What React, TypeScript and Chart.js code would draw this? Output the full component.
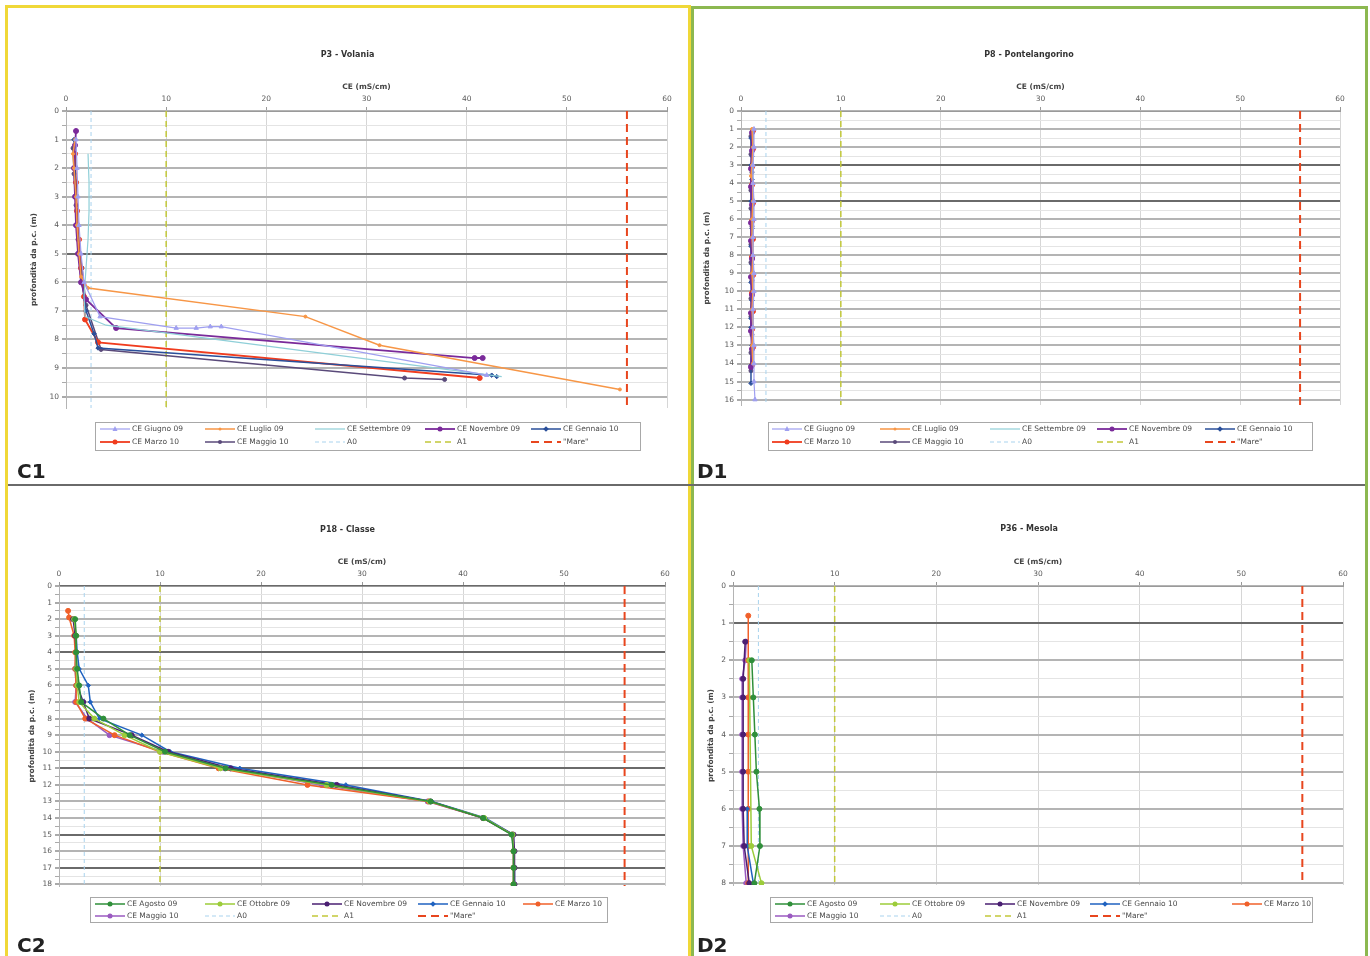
import React, { useEffect, useRef } from 'react';
import { Chart, registerables } from 'chart.js';
Chart.register(...registerables);

// ---------------- P3 - Volania (C1) ----------------
const c1GiugnoX = [1.0, 1.1, 1.2, 1.3, 1.5, 1.8, 3.4, 11.0, 13.0, 14.4, 15.5, 42.0];
const c1GiugnoD = [1.0, 2.0, 3.0, 4.0, 5.0, 6.0, 7.2, 7.6, 7.6, 7.55, 7.55, 9.25];
const c1LuglioX = [0.9, 0.7, 0.8, 1.0, 1.1, 1.3, 1.5, 2.2, 23.9, 31.3, 55.3];
const c1LuglioD = [1.0, 1.5, 2.0, 3.0, 4.0, 5.0, 5.8, 6.2, 7.2, 8.2, 9.75];
const c1SettembreX = [2.2, 2.3, 2.3, 2.2, 2.0, 1.8, 1.9, 4.0, 43.5];
const c1SettembreD = [1.5, 2.5, 3.5, 4.5, 5.5, 6.5, 7.2, 7.5, 9.3];
const c1NovembreX = [1.0, 0.9, 0.8, 0.9, 1.0, 1.2, 1.5, 2.0, 5.0, 40.8, 41.6];
const c1NovembreD = [0.7, 1.2, 2.0, 3.0, 4.0, 5.0, 6.0, 6.6, 7.6, 8.65, 8.65];
const c1GennaioX = [0.8, 0.9, 1.0, 1.1, 1.3, 1.6, 2.0, 2.8, 3.2, 42.5, 43.0];
const c1GennaioD = [1.0, 2.0, 3.0, 4.0, 5.0, 6.0, 7.0, 7.8, 8.3, 9.25, 9.3];
const c1MarzoX = [0.9, 1.0, 1.1, 1.3, 1.5, 1.8, 1.9, 3.2, 41.3];
const c1MarzoD = [1.5, 2.5, 3.5, 4.5, 5.5, 6.5, 7.3, 8.1, 9.35];
const c1MaggioX = [0.7, 0.8, 1.0, 1.2, 1.6, 2.0, 3.5, 33.8, 37.8];
const c1MaggioD = [1.3, 2.2, 3.3, 4.5, 5.5, 6.8, 8.35, 9.35, 9.4];

// ---------------- P8 - Pontelangorino (D1) ----------------
const d1GiugnoX = [1.3, 1.3, 1.2, 1.2, 1.3, 1.3, 1.2, 1.2, 1.3, 1.3, 1.2, 1.2, 1.3, 1.3, 1.3, 1.4];
const d1GiugnoD = [1, 2, 3, 4, 5, 6, 7, 8, 9, 10, 11, 12, 13, 14, 15, 16];
const d1LuglioX = [1.1, 1.2, 1.1, 1.0, 1.2, 1.2, 1.1, 1.1, 1.2, 1.1, 1.2, 1.1, 1.2, 1.1, 1.2];
const d1LuglioD = [1, 2, 3, 3.6, 4, 5, 6, 7, 8, 9, 10, 11, 12, 13, 14];
const d1SettembreX = [1.2, 1.2, 1.2, 1.2, 1.2, 1.2, 1.2, 1.2, 1.2, 1.2, 1.2, 1.2, 1.2, 1.2];
const d1SettembreD = [1, 2, 3, 4, 5, 6, 7, 8, 9, 10, 11, 12, 13, 14];
const d1NovembreX = [1.1, 1.1, 1.0, 1.0, 1.1, 1.0, 1.0, 1.1, 1.0, 1.1, 1.0, 1.0, 1.1, 1.0];
const d1NovembreD = [1.2, 2.2, 3.2, 4.2, 5.2, 6.2, 7.2, 8.2, 9.2, 10.2, 11.2, 12.2, 13.2, 14.2];
const d1GennaioX = [1.0, 1.1, 1.0, 1.1, 1.0, 1.1, 1.0, 1.1, 1.0, 1.1, 1.0, 1.0, 1.1, 1.0, 1.0];
const d1GennaioD = [1.5, 2.5, 3, 3.8, 5, 6.5, 7.5, 8.5, 9.5, 10.5, 11.5, 12, 13, 14.1, 15.1];
const d1MarzoX = [1.2, 1.2, 1.1, 1.1, 1.2, 1.1, 1.2, 1.1, 1.2, 1.1, 1.2, 1.1, 1.2, 1.1];
const d1MarzoD = [1.1, 2.1, 3.1, 4.1, 5.1, 6.1, 7.1, 8.1, 9.1, 10.1, 11.1, 12.1, 13.1, 14.1];
const d1MaggioX = [1.0, 1.0, 1.1, 1.0, 1.0, 1.1, 1.0, 1.0, 1.1, 1.0, 1.0, 1.1, 1.0, 1.0];
const d1MaggioD = [1.4, 2.4, 3.4, 4.4, 5.4, 6.4, 7.4, 8.4, 9.4, 10.4, 11.4, 12.4, 13.4, 14.4];

// ---------------- P18 - Classe (C2) ----------------
const c2AgostoX = [1.6, 1.7, 1.7, 1.8, 2.0, 2.2, 4.4, 7.0, 10.5, 16.5, 27.0, 36.8, 42.0, 44.8, 45.0, 45.0, 45.0];
const c2AgostoD = [2, 3, 4, 5, 6, 7, 8, 9, 10, 11, 12, 13, 14, 15, 16, 17, 18];
const c2OttobreX = [1.5, 1.7, 1.7, 1.7, 1.8, 2.0, 3.5, 6.5, 10.0, 16.0, 26.5, 36.7, 42.1, 44.9, 45.0, 45.0, 45.0];
const c2OttobreD = [2, 3, 4, 5, 6, 7, 8, 9, 10, 11, 12, 13, 14, 15, 16, 17, 18];
const c2NovembreX = [1.4, 1.6, 1.7, 1.7, 1.8, 2.4, 3.0, 7.2, 10.8, 17.0, 27.5, 36.8, 42.0, 45.0, 45.1, 45.1, 45.1];
const c2NovembreD = [2, 3, 4, 5, 6, 7, 8, 9, 10, 11, 12, 13, 14, 15, 16, 17, 18];
const c2GennaioX = [1.7, 1.8, 2.0, 2.9, 3.1, 4.0, 8.2, 11.0, 17.9, 28.4, 36.9, 42.2, 45.0, 45.0, 45.1, 45.1];
const c2GennaioD = [3, 4, 5, 6, 7, 8, 9, 10, 11, 12, 13, 14, 15, 16, 17, 18];
const c2MarzoX = [0.9, 1.0, 1.5, 1.6, 1.6, 1.7, 1.7, 2.6, 5.5, 10.0, 15.8, 24.6, 36.6, 42.0, 44.9, 45.0, 45.0, 45.0];
const c2MarzoD = [1.5, 1.9, 3, 4, 5, 6, 7, 8, 9, 10, 11, 12, 13, 14, 15, 16, 17, 18];
const c2MaggioX = [1.6, 1.7, 1.6, 1.7, 1.6, 2.8, 5.0, 10.3, 16.4, 26.0, 36.5, 42.0, 44.9, 45.0, 45.0, 45.0];
const c2MaggioD = [3, 4, 5, 6, 7, 8, 9, 10, 11, 12, 13, 14, 15, 16, 17, 18];

// ---------------- P36 - Mesola (D2) ----------------
const d2AgostoX = [1.85, 2.0, 2.15, 2.3, 2.6, 2.65, 2.1];
const d2AgostoD = [2, 3, 4, 5, 6, 7, 8];
const d2OttobreX = [1.6, 1.8, 2.8];
const d2OttobreD = [2, 7, 8];
const d2NovembreX = [1.2, 1.0, 1.0, 1.0, 1.0, 1.0, 1.1, 1.6];
const d2NovembreD = [1.5, 2.5, 3, 4, 5, 6, 7, 8];
const d2GennaioX = [1.4, 1.4, 2.0];
const d2GennaioD = [6, 7, 8];
const d2MarzoX = [1.5, 1.5, 1.5, 1.5, 1.5, 1.5, 1.5, 1.5];
const d2MarzoD = [0.8, 2, 3, 4, 5, 6, 7, 8];
const d2MaggioX = [1.3, 1.2, 0.9, 0.9, 0.9, 0.9, 0.9, 1.0, 1.3];
const d2MaggioD = [1.5, 2, 2.5, 3, 4, 5, 6, 7, 8];

// reference thresholds
const thrA0 = 2.5;
const thrA1 = 10;
const thrMare = 56;

const xTicksMax = 60;
const FONT = '"DejaVu Sans", Verdana, sans-serif';

const pts = (xs: number[], ds: number[]) => xs.map((x, i) => ({ x, y: ds[i] }));

function series(label: string, xs: number[], ds: number[], color: string, style: any, radius: number, width = 1.5) {
  return {
    label,
    data: pts(xs, ds),
    showLine: true,
    borderColor: color,
    backgroundColor: color,
    borderWidth: width,
    pointStyle: style,
    pointRadius: radius,
    pointBorderWidth: 1,
  };
}
function thr(label: string, x: number, maxD: number, color: string, dash: number[], width: number) {
  return {
    label,
    data: [{ x, y: 0 }, { x, y: maxD }],
    showLine: true,
    borderColor: color,
    backgroundColor: color,
    borderWidth: width,
    borderDash: dash,
    pointRadius: 0,
  };
}

const COL_A0 = '#a9d3ee';
const COL_A1 = '#c2c83a';
const COL_MARE = '#e8461e';

const c1Max = 10.4, d1Max = 16.3, c2Max = 18.1, d2Max = 8.05;

const c1Datasets = [
  series('CE Giugno 09', c1GiugnoX, c1GiugnoD, '#9f9ff0', 'triangle', 2.5, 1.2),
  series('CE Luglio 09', c1LuglioX, c1LuglioD, '#f79646', 'circle', 1.5),
  series('CE Settembre 09', c1SettembreX, c1SettembreD, '#8fcfd8', 'circle', 0, 1.2),
  series('CE Novembre 09', c1NovembreX, c1NovembreD, '#7a2a9a', 'circle', 2.5, 1.8),
  series('CE Gennaio 10', c1GennaioX, c1GennaioD, '#2a4f9a', 'rectRot', 2.2),
  series('CE Marzo 10', c1MarzoX, c1MarzoD, '#f03c1e', 'circle', 2.5, 1.8),
  series('CE Maggio 10', c1MaggioX, c1MaggioD, '#5a4a7a', 'circle', 2),
  thr('A0', thrA0, c1Max, COL_A0, [4, 3], 1),
  thr('A1', thrA1, c1Max, COL_A1, [6, 4], 1.5),
  thr('"Mare"', thrMare, c1Max, COL_MARE, [8, 5], 2),
];
const d1Datasets = [
  series('CE Giugno 09', d1GiugnoX, d1GiugnoD, '#9f9ff0', 'triangle', 2.5, 1.2),
  series('CE Luglio 09', d1LuglioX, d1LuglioD, '#f79646', 'circle', 1.5),
  series('CE Settembre 09', d1SettembreX, d1SettembreD, '#8fcfd8', 'circle', 0, 1.2),
  series('CE Novembre 09', d1NovembreX, d1NovembreD, '#7a2a9a', 'circle', 2.5, 1.8),
  series('CE Gennaio 10', d1GennaioX, d1GennaioD, '#2a4f9a', 'rectRot', 2.2),
  series('CE Marzo 10', d1MarzoX, d1MarzoD, '#f03c1e', 'circle', 2.5, 1.8),
  series('CE Maggio 10', d1MaggioX, d1MaggioD, '#5a4a7a', 'circle', 2),
  thr('A0', thrA0, d1Max, COL_A0, [4, 3], 1),
  thr('A1', thrA1, d1Max, COL_A1, [6, 4], 1.5),
  thr('"Mare"', thrMare, d1Max, COL_MARE, [8, 5], 2),
];
const c2Datasets = [
  series('CE Agosto 09', c2AgostoX, c2AgostoD, '#2f8f3a', 'circle', 2.5),
  series('CE Ottobre 09', c2OttobreX, c2OttobreD, '#9ccc3a', 'circle', 2.5),
  series('CE Novembre 09', c2NovembreX, c2NovembreD, '#4a1f72', 'circle', 2.5),
  series('CE Gennaio 10', c2GennaioX, c2GennaioD, '#1f62c0', 'rectRot', 2.2),
  series('CE Marzo 10', c2MarzoX, c2MarzoD, '#f0602a', 'circle', 2.5),
  series('CE Maggio 10', c2MaggioX, c2MaggioD, '#9a5ac0', 'circle', 2.5),
  thr('A0', thrA0, c2Max, COL_A0, [4, 3], 1),
  thr('A1', thrA1, c2Max, COL_A1, [6, 4], 1.5),
  thr('"Mare"', thrMare, c2Max, COL_MARE, [8, 5], 2),
];
const d2Datasets = [
  series('CE Agosto 09', d2AgostoX, d2AgostoD, '#2f8f3a', 'circle', 2.5),
  series('CE Ottobre 09', d2OttobreX, d2OttobreD, '#9ccc3a', 'circle', 2.5),
  series('CE Novembre 09', d2NovembreX, d2NovembreD, '#4a1f72', 'circle', 2.5),
  series('CE Gennaio 10', d2GennaioX, d2GennaioD, '#1f62c0', 'rectRot', 2.2),
  series('CE Marzo 10', d2MarzoX, d2MarzoD, '#f0602a', 'circle', 2.5),
  series('CE Maggio 10', d2MaggioX, d2MaggioD, '#9a5ac0', 'circle', 2.5),
  thr('A0', thrA0, d2Max, COL_A0, [4, 3], 1),
  thr('A1', thrA1, d2Max, COL_A1, [6, 4], 1.5),
  thr('"Mare"', thrMare, d2Max, COL_MARE, [8, 5], 2),
];

function drawMarker(ctx: CanvasRenderingContext2D, style: string, x: number, y: number, r: number, color: string) {
  ctx.fillStyle = color;
  ctx.strokeStyle = color;
  ctx.beginPath();
  if (style === 'triangle') {
    ctx.moveTo(x, y - r * 1.2);
    ctx.lineTo(x + r, y + r * 0.8);
    ctx.lineTo(x - r, y + r * 0.8);
    ctx.closePath();
  } else if (style === 'rectRot') {
    ctx.moveTo(x, y - r * 1.3);
    ctx.lineTo(x + r * 1.3, y);
    ctx.lineTo(x, y + r * 1.3);
    ctx.lineTo(x - r * 1.3, y);
    ctx.closePath();
  } else {
    ctx.arc(x, y, r, 0, Math.PI * 2);
  }
  ctx.fill();
}

const panelPlugin = {
  id: 'panelDeco',
  afterDraw(chart: any, _args: any, opts: any) {
    const { ctx } = chart;
    ctx.save();
    // title
    ctx.font = `bold 8px ${FONT}`;
    ctx.fillStyle = '#333';
    ctx.textAlign = 'center';
    ctx.textBaseline = 'middle';
    ctx.fillText(opts.title, opts.titleX, opts.titleY);
    // legend
    const b = opts.box;
    ctx.strokeStyle = '#a8a8a8';
    ctx.lineWidth = 1;
    ctx.strokeRect(b.x + 0.5, b.y + 0.5, b.w, b.h);
    ctx.font = `7.5px ${FONT}`;
    ctx.textAlign = 'left';
    chart.data.datasets.forEach((ds: any, i: number) => {
      const c = i % opts.cols.length;
      const r = Math.floor(i / opts.cols.length);
      const x = opts.cols[c];
      const y = opts.rows[r];
      const sw = opts.sample;
      ctx.strokeStyle = ds.borderColor;
      ctx.lineWidth = ds.borderWidth;
      ctx.setLineDash(ds.borderDash || []);
      ctx.beginPath();
      ctx.moveTo(x, y);
      ctx.lineTo(x + sw, y);
      ctx.stroke();
      ctx.setLineDash([]);
      if (ds.pointRadius > 0) drawMarker(ctx, ds.pointStyle, x + sw / 2, y, ds.pointRadius, ds.borderColor);
      ctx.fillStyle = '#4a4a4a';
      ctx.fillText(ds.label, x + sw + 2, y + 0.5);
    });
    ctx.restore();
  },
};

type Spec = {
  left: number; top: number; w: number; h: number;
  plot: { l: number; r: number; t: number; b: number };
  title: string; titleY: number;
  yMax: number; yTitlePad: number;
  darkLines: number[];
  datasets: any[];
  legend: { box: { x: number; y: number; w: number; h: number }; cols: number[]; rows: number[] };
};

function ChartPanel({ spec }: { spec: Spec }) {
  const ref = useRef<HTMLCanvasElement>(null);
  useEffect(() => {
    const s = spec;
    const pl = s.plot.l - s.left;
    const pr = s.plot.r - s.left;
    const pt = s.plot.t - s.top;
    const pb = s.plot.b - s.top;
    const topPad = pt - 28;
    const chart = new Chart(ref.current!, {
      type: 'scatter',
      data: { datasets: s.datasets },
      options: {
        animation: false,
        responsive: false,
        layout: { padding: { left: 0, top: topPad, right: s.w - pr, bottom: s.h - pb } },
        plugins: {
          legend: { display: false },
          tooltip: { enabled: false },
          title: { display: false },
          panelDeco: {
            title: s.title,
            titleX: s.w / 2,
            titleY: s.titleY - s.top,
            box: { x: s.legend.box.x - s.left, y: s.legend.box.y - s.top, w: s.legend.box.w, h: s.legend.box.h },
            cols: s.legend.cols.map((c) => c - s.left),
            rows: s.legend.rows.map((r) => r - s.top),
            sample: 30,
          },
        } as any,
        scales: {
          x: {
            type: 'linear',
            position: 'top',
            min: 0,
            max: xTicksMax,
            afterFit: (sc: any) => { sc.height = 28; },
            ticks: { stepSize: 10, font: { size: 7.5, family: FONT }, color: '#5a5a5a', padding: 3 },
            grid: { color: '#d6d6d6', lineWidth: 1, tickLength: 4, tickColor: '#999' },
            border: { color: '#9a9a9a', width: 1 },
            title: { display: true, text: 'CE (mS/cm)', font: { size: 7.5, family: FONT, weight: 'bold' }, color: '#444', padding: { top: 0, bottom: 0 } },
          },
          y: {
            type: 'linear',
            reverse: true,
            min: 0,
            max: s.yMax,
            afterFit: (sc: any) => { sc.width = pl; },
            ticks: {
              stepSize: 0.5,
              includeBounds: false,
              autoSkip: false,
              font: { size: 7.5, family: FONT },
              color: '#5a5a5a',
              padding: 3,
              callback: (v: any) => (Number.isInteger(v) ? String(v) : ''),
            },
            grid: {
              tickLength: 4,
              tickColor: '#aaa',
              color: (c: any) => {
                const v = c.tick ? c.tick.value : 0;
                if (!Number.isInteger(v)) return '#e4e4e4';
                return s.darkLines.includes(v) ? '#6a6a6a' : '#b4b4b4';
              },
              lineWidth: (c: any) => {
                const v = c.tick ? c.tick.value : 0;
                return Number.isInteger(v) ? 2 : 1;
              },
            },
            border: { color: '#b4b4b4', width: 1 },
            title: { display: true, text: 'profondità da p.c. (m)', font: { size: 7.5, family: FONT, weight: 'bold' }, color: '#444', padding: { top: s.yTitlePad, bottom: 0 } },
          },
        },
      } as any,
      plugins: [panelPlugin],
    });
    return () => chart.destroy();
  }, [spec]);
  return (
    <canvas
      ref={ref}
      width={spec.w}
      height={spec.h}
      style={{ position: 'absolute', left: spec.left, top: spec.top, width: spec.w, height: spec.h }}
    />
  );
}

const specs: Spec[] = [
  {
    left: 10, top: 10, w: 675, h: 470,
    plot: { l: 66, r: 667, t: 111, b: 408 },
    title: 'P3 - Volania', titleY: 55, yMax: c1Max, yTitlePad: 20, darkLines: [5],
    datasets: c1Datasets,
    legend: { box: { x: 95, y: 422, w: 545, h: 28 }, cols: [100, 205, 315, 425, 531], rows: [429, 442] },
  },
  {
    left: 695, top: 10, w: 668, h: 470,
    plot: { l: 741, r: 1340, t: 111, b: 405 },
    title: 'P8 - Pontelangorino', titleY: 55, yMax: d1Max, yTitlePad: 8, darkLines: [3, 5],
    datasets: d1Datasets,
    legend: { box: { x: 768, y: 422, w: 544, h: 28 }, cols: [772, 880, 990, 1097, 1205], rows: [429, 442] },
  },
  {
    left: 10, top: 490, w: 675, h: 460,
    plot: { l: 59, r: 665, t: 586, b: 886 },
    title: 'P18 - Classe', titleY: 530, yMax: c2Max, yTitlePad: 18, darkLines: [0, 4, 11, 15, 17],
    datasets: c2Datasets,
    legend: { box: { x: 90, y: 897, w: 517, h: 25 }, cols: [95, 205, 312, 418, 523], rows: [904, 916] },
  },
  {
    left: 695, top: 490, w: 668, h: 460,
    plot: { l: 733, r: 1343, t: 586, b: 885 },
    title: 'P36 - Mesola', titleY: 529, yMax: d2Max, yTitlePad: 12, darkLines: [1],
    datasets: d2Datasets,
    legend: { box: { x: 770, y: 897, w: 542, h: 25 }, cols: [775, 880, 985, 1090, 1232], rows: [904, 916] },
  },
];

const labelStyle: React.CSSProperties = {
  position: 'absolute',
  fontFamily: FONT,
  fontWeight: 'bold',
  fontSize: 20,
  color: '#222',
  lineHeight: '20px',
};

export default function App() {
  return (
    <div style={{ position: 'absolute', left: 0, top: 0, width: 1370, height: 956, background: '#fff', overflow: 'hidden' }}>
      <div style={{ position: 'absolute', left: 5, top: 5, width: 680, height: 960, border: '3px solid #f0d838' }} />
      <div style={{ position: 'absolute', left: 691, top: 6, width: 671, height: 960, border: '3px solid #8cb850' }} />
      <div style={{ position: 'absolute', left: 8, top: 484, width: 1357, height: 2, background: '#6a6a6a' }} />
      {specs.map((s, i) => <ChartPanel key={i} spec={s} />)}
      <div style={{ ...labelStyle, left: 17, top: 461 }}>C1</div>
      <div style={{ ...labelStyle, left: 697, top: 461 }}>D1</div>
      <div style={{ ...labelStyle, left: 17, top: 935 }}>C2</div>
      <div style={{ ...labelStyle, left: 697, top: 935 }}>D2</div>
    </div>
  );
}
